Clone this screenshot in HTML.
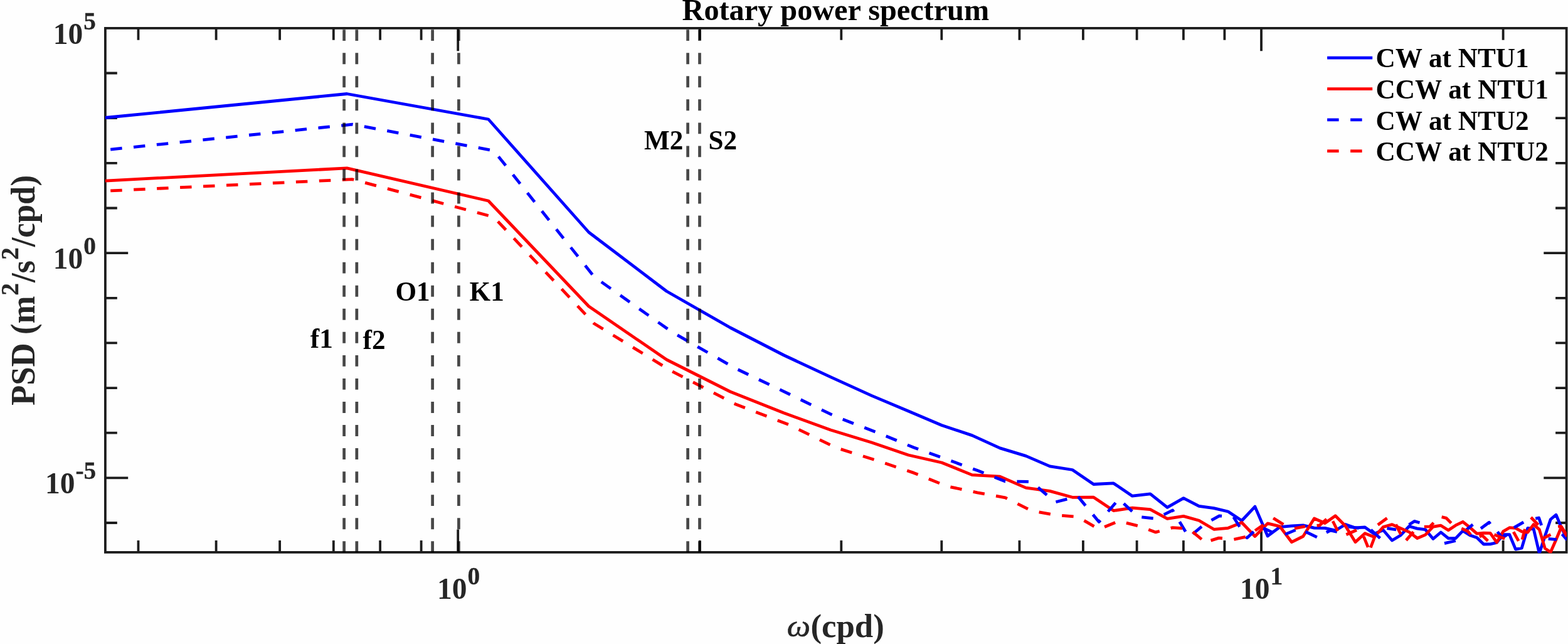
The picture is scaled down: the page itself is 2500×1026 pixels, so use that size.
<!DOCTYPE html>
<html lang="en"><head><meta charset="utf-8"><title>Rotary power spectrum</title>
<style>html,body{margin:0;padding:0;background:#fff;}body{width:2500px;height:1026px;overflow:hidden;}svg{display:block;}text{font-family:"Liberation Serif","DejaVu Serif",serif;font-weight:bold;}</style></head><body>
<svg width="2500" height="1026" viewBox="0 0 2500 1026">
<rect x="0" y="0" width="2500" height="1026" fill="#fefefe"/>
<defs><clipPath id="ax"><rect x="167.7" y="44.7" width="2330.1" height="836.6"/></clipPath></defs>
<g stroke="#1c1c1c" stroke-width="3.80" fill="none" stroke-linecap="butt">
<rect x="167.9" y="44.9" width="2329.7" height="835.0"/>
<path d="M220.5 879.9v-18.9 M220.5 44.9v18.9 M344.6 879.9v-18.9 M344.6 44.9v18.9 M446.1 879.9v-18.9 M446.1 44.9v18.9 M531.8 879.9v-18.9 M531.8 44.9v18.9 M606.1 879.9v-18.9 M606.1 44.9v18.9 M671.6 879.9v-18.9 M671.6 44.9v18.9 M1115.8 879.9v-18.9 M1115.8 44.9v18.9 M1341.3 879.9v-18.9 M1341.3 44.9v18.9 M1501.3 879.9v-18.9 M1501.3 44.9v18.9 M1625.4 879.9v-18.9 M1625.4 44.9v18.9 M1726.9 879.9v-18.9 M1726.9 44.9v18.9 M1812.6 879.9v-18.9 M1812.6 44.9v18.9 M1886.9 879.9v-18.9 M1886.9 44.9v18.9 M1952.4 879.9v-18.9 M1952.4 44.9v18.9 M2396.6 879.9v-18.9 M2396.6 44.9v18.9 M730.2 879.9v-36.3 M730.2 44.9v36.3 M2011.0 879.9v-36.3 M2011.0 44.9v36.3 M167.9 833.0h18.9 M2497.6 833.0h-17.5 M167.9 761.4h36.3 M2497.6 761.4h-36.3 M167.9 689.7h18.9 M2497.6 689.7h-17.5 M167.9 618.1h18.9 M2497.6 618.1h-17.5 M167.9 546.4h18.9 M2497.6 546.4h-17.5 M167.9 474.8h18.9 M2497.6 474.8h-17.5 M167.9 403.1h36.3 M2497.6 403.1h-36.3 M167.9 331.5h18.9 M2497.6 331.5h-17.5 M167.9 259.8h18.9 M2497.6 259.8h-17.5 M167.9 188.2h18.9 M2497.6 188.2h-17.5 M167.9 116.5h18.9 M2497.6 116.5h-17.5"/>
</g>
<g clip-path="url(#ax)">
<polyline points="167.6,187.5 553.2,149.5 778.7,190.0 938.7,370.0 1062.8,464.0 1164.3,522.0 1250.0,566.0 1324.3,600.6 1389.8,630.4 1448.4,655.0 1501.4,677.5 1549.8,693.6 1594.3,713.9 1635.6,726.4 1673.9,742.9 1709.8,748.5 1743.6,771.5 1775.4,769.9 1805.4,790.2 1834.0,786.8 1861.1,808.3 1887.0,793.6 1911.7,806.3 1935.4,809.7 1958.1,815.0 1979.9,829.5 2000.9,807.1 2021.1,854.0 2040.6,839.6 2059.5,837.8 2077.7,836.9 2095.4,841.1 2112.5,841.3 2129.1,845.2 2145.2,835.5 2160.9,840.9 2176.2,840.0 2191.0,850.5 2205.4,844.5 2219.5,861.0 2233.3,852.7 2246.7,838.5 2259.7,842.1 2272.5,843.6 2285.0,858.5 2297.3,848.0 2309.2,857.7 2320.9,857.7 2332.4,845.7 2343.6,852.7 2354.7,856.5 2365.5,867.0 2376.1,866.8 2386.4,864.5 2396.7,851.7 2406.7,851.7 2416.5,875.1 2426.2,873.2 2435.7,841.4 2445.1,842.5 2454.3,881.5 2463.3,853.9 2472.2,827.5 2481.0,820.2 2489.6,840.7 2498.1,858.3" fill="none" stroke="#0000ff" stroke-width="4.80" stroke-linejoin="round" stroke-linecap="butt"/>
<polyline points="167.6,288.1 553.2,267.9 778.7,320.0 938.7,488.0 1062.8,573.0 1164.3,624.0 1250.0,658.0 1324.3,685.0 1389.8,705.0 1448.4,725.0 1501.4,737.0 1549.8,756.6 1594.3,759.2 1635.6,777.1 1673.9,782.4 1709.8,792.3 1743.6,792.2 1775.4,813.6 1805.4,809.2 1834.0,811.7 1861.1,826.3 1887.0,822.4 1911.7,829.2 1935.4,843.3 1958.1,841.3 1979.9,832.5 2000.9,854.5 2021.1,833.9 2040.6,838.7 2059.5,863.7 2077.7,854.5 2095.4,826.0 2112.5,833.5 2129.1,821.8 2145.2,838.0 2160.9,863.6 2176.2,849.7 2191.0,855.5 2205.4,839.6 2219.5,835.6 2233.3,841.8 2246.7,847.6 2259.7,857.5 2272.5,852.1 2285.0,839.2 2297.3,837.2 2309.2,844.8 2320.9,836.9 2332.4,831.3 2343.6,840.4 2354.7,850.1 2365.5,849.2 2376.1,849.3 2386.4,864.1 2396.7,846.6 2406.7,840.7 2416.5,841.4 2426.2,846.9 2435.7,848.0 2445.1,835.6 2454.3,843.6 2463.3,873.6 2472.2,879.8 2481.0,859.7 2489.6,839.2 2498.1,853.1" fill="none" stroke="#ff0000" stroke-width="4.80" stroke-linejoin="round" stroke-linecap="butt"/>
<polyline points="176.2,238.1 561.8,198.2 787.3,240.0 947.3,441.0 1071.4,529.0 1172.9,587.0 1258.6,628.0 1332.9,664.0 1398.4,689.0 1457.0,713.0 1510.0,732.0 1558.4,749.6 1602.9,766.9 1644.2,767.5 1682.5,800.0 1718.4,790.7 1752.2,831.5 1784.0,795.0 1814.0,823.2 1842.6,826.2 1869.7,812.9 1895.6,856.0 1920.3,835.2 1944.0,821.8 1966.7,823.8 1978.8,843.0" fill="none" stroke="#0000ff" stroke-width="4.80" stroke-linejoin="round" stroke-linecap="butt" stroke-dasharray="18.5 18.5" stroke-dashoffset="0.0"/>
<polyline points="176.2,303.9 561.8,285.7 787.3,345.8 947.3,515.5 1071.4,591.6 1172.9,644.0 1258.6,677.0 1332.9,713.2 1398.4,733.8 1457.0,753.4 1510.0,774.7 1558.4,784.8 1602.9,792.8 1644.2,813.6 1682.5,820.5 1718.4,823.5 1752.2,843.2 1784.0,830.2 1814.0,837.6 1842.6,847.9 1869.7,840.6 1895.6,842.4 1920.3,862.9" fill="none" stroke="#ff0000" stroke-width="4.80" stroke-linejoin="round" stroke-linecap="butt" stroke-dasharray="18.5 18.5" stroke-dashoffset="0.0"/>
<polyline points="1986.2,855.6 1988.5,856.8 1998.9,847.0" fill="none" stroke="#0000ff" stroke-width="4.80" stroke-linejoin="round" stroke-linecap="butt"/>
<polyline points="2014.3,841.3 2028.8,848.1" fill="none" stroke="#0000ff" stroke-width="4.80" stroke-linejoin="round" stroke-linecap="butt"/>
<polyline points="2048.9,851.4 2065.6,844.4" fill="none" stroke="#0000ff" stroke-width="4.80" stroke-linejoin="round" stroke-linecap="butt"/>
<polyline points="2081.4,847.0 2099.8,855.8" fill="none" stroke="#0000ff" stroke-width="4.80" stroke-linejoin="round" stroke-linecap="butt"/>
<polyline points="2114.8,848.3 2121.1,845.0 2131.8,847.4" fill="none" stroke="#0000ff" stroke-width="4.80" stroke-linejoin="round" stroke-linecap="butt"/>
<polyline points="2149.6,839.2 2166.5,841.3" fill="none" stroke="#0000ff" stroke-width="4.80" stroke-linejoin="round" stroke-linecap="butt"/>
<polyline points="2185.7,843.9 2200.4,857.4" fill="none" stroke="#0000ff" stroke-width="4.80" stroke-linejoin="round" stroke-linecap="butt"/>
<polyline points="2211.5,841.6 2226.1,843.9" fill="none" stroke="#0000ff" stroke-width="4.80" stroke-linejoin="round" stroke-linecap="butt"/>
<polyline points="2246.5,836.0 2255.0,830.4 2263.5,832.8" fill="none" stroke="#0000ff" stroke-width="4.80" stroke-linejoin="round" stroke-linecap="butt"/>
<polyline points="2303.0,865.6 2320.8,861.5" fill="none" stroke="#0000ff" stroke-width="4.80" stroke-linejoin="round" stroke-linecap="butt"/>
<polyline points="2333.7,847.7 2348.3,835.7" fill="none" stroke="#0000ff" stroke-width="4.80" stroke-linejoin="round" stroke-linecap="butt"/>
<polyline points="2361.0,842.0 2374.2,832.2 2376.1,834.7" fill="none" stroke="#0000ff" stroke-width="4.80" stroke-linejoin="round" stroke-linecap="butt"/>
<polyline points="2387.5,847.3 2395.0,856.8 2402.2,852.4" fill="none" stroke="#0000ff" stroke-width="4.80" stroke-linejoin="round" stroke-linecap="butt"/>
<polyline points="2413.9,840.7 2429.2,831.9" fill="none" stroke="#0000ff" stroke-width="4.80" stroke-linejoin="round" stroke-linecap="butt"/>
<polyline points="2448.2,826.1 2453.6,825.0 2457.7,837.1" fill="none" stroke="#0000ff" stroke-width="4.80" stroke-linejoin="round" stroke-linecap="butt"/>
<polyline points="2468.7,858.3 2481.9,859.7" fill="none" stroke="#0000ff" stroke-width="4.80" stroke-linejoin="round" stroke-linecap="butt"/>
<polyline points="2490.6,850.9 2498.5,860.2" fill="none" stroke="#0000ff" stroke-width="4.80" stroke-linejoin="round" stroke-linecap="butt"/>
<polyline points="1930.5,861.1 1943.2,857.1 1948.9,857.5" fill="none" stroke="#ff0000" stroke-width="4.80" stroke-linejoin="round" stroke-linecap="butt"/>
<polyline points="1967.4,859.3 1985.8,855.4" fill="none" stroke="#ff0000" stroke-width="4.80" stroke-linejoin="round" stroke-linecap="butt"/>
<polyline points="2001.1,845.4 2014.3,836.1" fill="none" stroke="#ff0000" stroke-width="4.80" stroke-linejoin="round" stroke-linecap="butt"/>
<polyline points="2030.1,825.5 2046.3,835.6" fill="none" stroke="#ff0000" stroke-width="4.80" stroke-linejoin="round" stroke-linecap="butt"/>
<polyline points="2063.9,841.8 2081.0,838.7" fill="none" stroke="#ff0000" stroke-width="4.80" stroke-linejoin="round" stroke-linecap="butt"/>
<polyline points="2099.6,837.5 2104.0,836.9 2115.1,827.0" fill="none" stroke="#ff0000" stroke-width="4.80" stroke-linejoin="round" stroke-linecap="butt"/>
<polyline points="2125.0,830.2 2132.9,846.0" fill="none" stroke="#ff0000" stroke-width="4.80" stroke-linejoin="round" stroke-linecap="butt"/>
<polyline points="2146.4,851.8 2163.0,844.5" fill="none" stroke="#ff0000" stroke-width="4.80" stroke-linejoin="round" stroke-linecap="butt"/>
<polyline points="2174.2,854.7 2181.2,871.8" fill="none" stroke="#ff0000" stroke-width="4.80" stroke-linejoin="round" stroke-linecap="butt"/>
<polyline points="2185.3,872.5 2192.3,854.0" fill="none" stroke="#ff0000" stroke-width="4.80" stroke-linejoin="round" stroke-linecap="butt"/>
<polyline points="2196.8,836.3 2211.5,825.5" fill="none" stroke="#ff0000" stroke-width="4.80" stroke-linejoin="round" stroke-linecap="butt"/>
<polyline points="2225.5,835.7 2233.4,851.2" fill="none" stroke="#ff0000" stroke-width="4.80" stroke-linejoin="round" stroke-linecap="butt"/>
<polyline points="2241.9,860.9 2253.6,847.4" fill="none" stroke="#ff0000" stroke-width="4.80" stroke-linejoin="round" stroke-linecap="butt"/>
<polyline points="2270.8,839.2 2279.9,838.9 2285.7,832.9" fill="none" stroke="#ff0000" stroke-width="4.80" stroke-linejoin="round" stroke-linecap="butt"/>
<polyline points="2298.6,823.7 2305.8,825.3 2313.8,833.4" fill="none" stroke="#ff0000" stroke-width="4.80" stroke-linejoin="round" stroke-linecap="butt"/>
<polyline points="2330.2,841.9 2340.4,846.5 2344.8,851.8" fill="none" stroke="#ff0000" stroke-width="4.80" stroke-linejoin="round" stroke-linecap="butt"/>
<polyline points="2358.8,855.0 2363.2,853.0 2372.3,861.8" fill="none" stroke="#ff0000" stroke-width="4.80" stroke-linejoin="round" stroke-linecap="butt"/>
<polyline points="2382.4,851.7 2399.2,858.3" fill="none" stroke="#ff0000" stroke-width="4.80" stroke-linejoin="round" stroke-linecap="butt"/>
<polyline points="2413.1,847.3 2421.2,861.9" fill="none" stroke="#ff0000" stroke-width="4.80" stroke-linejoin="round" stroke-linecap="butt"/>
<polyline points="2427.0,859.7 2431.4,842.9" fill="none" stroke="#ff0000" stroke-width="4.80" stroke-linejoin="round" stroke-linecap="butt"/>
<polyline points="2440.9,824.3 2452.6,836.3" fill="none" stroke="#ff0000" stroke-width="4.80" stroke-linejoin="round" stroke-linecap="butt"/>
<polyline points="2460.7,857.5 2472.4,851.7" fill="none" stroke="#ff0000" stroke-width="4.80" stroke-linejoin="round" stroke-linecap="butt"/>
<polyline points="2484.1,839.2 2488.4,838.5 2498.5,854.6" fill="none" stroke="#ff0000" stroke-width="4.80" stroke-linejoin="round" stroke-linecap="butt"/>
</g>
<g stroke="#000" stroke-opacity="0.72" stroke-width="4.70" stroke-dasharray="17.9 19.15" stroke-dashoffset="34.75">
<line x1="548.6" y1="44.9" x2="548.6" y2="879.9"/>
<line x1="568.8" y1="44.9" x2="568.8" y2="879.9"/>
<line x1="689.6" y1="44.9" x2="689.6" y2="879.9"/>
<line x1="731.4" y1="44.9" x2="731.4" y2="879.9"/>
<line x1="1096.6" y1="44.9" x2="1096.6" y2="879.9"/>
<line x1="1115.5" y1="44.9" x2="1115.5" y2="879.9"/>
</g>
<text transform="translate(697.00 953.70) scale(0.9900 1.0250)" font-size="48.00" fill="#262626">10<tspan font-size="39.80" dx="0.90" dy="-22.40" stroke="#262626" stroke-width="0.30">0</tspan></text>
<text transform="translate(1977.00 953.70) scale(0.9900 1.0250)" font-size="48.00" fill="#262626">10<tspan font-size="39.80" dx="0.90" dy="-22.40" stroke="#262626" stroke-width="0.30">1</tspan></text>
<text transform="translate(84.80 69.50) scale(0.9900 1.0250)" font-size="48.00" fill="#262626">10<tspan font-size="39.80" dx="0.90" dy="-22.40" stroke="#262626" stroke-width="0.30">5</tspan></text>
<text transform="translate(84.80 427.60) scale(0.9900 1.0250)" font-size="48.00" fill="#262626">10<tspan font-size="39.80" dx="0.90" dy="-22.40" stroke="#262626" stroke-width="0.30">0</tspan></text>
<text transform="translate(72.00 785.50) scale(0.9900 1.0250)" font-size="48.00" fill="#262626">10<tspan font-size="39.80" dx="0.90" dy="-22.40" stroke="#262626" stroke-width="0.30">-5</tspan></text>
<text transform="translate(1332.30 32.00)" font-size="48.25" fill="#000" text-anchor="middle">Rotary power spectrum</text>
<text transform="translate(1254.80 1014.30) scale(1.0000 0.9200)" font-size="52.80" fill="#262626" style="font-weight:normal;font-style:italic" stroke="#262626" stroke-width="0.60">ω</text>
<text transform="translate(1292.40 1014.50)" font-size="52.80" fill="#262626">(cpd)</text>
<text transform="translate(55.20 462.50) rotate(-90) scale(1.0000 1.0200)" font-size="52.80" fill="#262626" text-anchor="middle">PSD (m<tspan font-size="39.60" dx="0.80" dy="-25.20" stroke="#262626" stroke-width="0.30">2</tspan><tspan dx="0.90" dy="25.20">/s</tspan><tspan font-size="39.60" dx="0.80" dy="-25.20" stroke="#262626" stroke-width="0.30">2</tspan><tspan dx="0.90" dy="25.20">/cpd)</tspan></text>
<text transform="translate(494.80 554.30) scale(1.0000 1.0250)" font-size="43.20" fill="#000">f1</text>
<text transform="translate(578.50 555.80) scale(1.0000 1.0250)" font-size="43.20" fill="#000">f2</text>
<text transform="translate(630.50 479.30) scale(1.0000 1.0250)" font-size="43.20" fill="#000">O1</text>
<text transform="translate(748.60 479.20) scale(1.0000 1.0250)" font-size="43.20" fill="#000">K1</text>
<text transform="translate(1027.00 238.00) scale(1.0000 1.0250)" font-size="43.20" fill="#000">M2</text>
<text transform="translate(1129.50 238.00) scale(1.0000 1.0250)" font-size="43.20" fill="#000">S2</text>
<line x1="2116.1" y1="92.2" x2="2188.2" y2="92.2" stroke="#0000ff" stroke-width="4.80"/>
<text transform="translate(2193.60 107.00) scale(1.0000 1.0150)" font-size="43.20" fill="#000">CW at NTU1</text>
<line x1="2116.1" y1="141.7" x2="2188.2" y2="141.7" stroke="#ff0000" stroke-width="4.80"/>
<text transform="translate(2193.60 157.00) scale(1.0000 1.0150)" font-size="43.20" fill="#000">CCW at NTU1</text>
<line x1="2116.1" y1="190.8" x2="2188.2" y2="190.8" stroke="#0000ff" stroke-width="4.80" stroke-dasharray="18.5 18.5"/>
<text transform="translate(2193.60 206.70) scale(1.0000 1.0150)" font-size="43.20" fill="#000">CW at NTU2</text>
<line x1="2116.1" y1="240.6" x2="2188.2" y2="240.6" stroke="#ff0000" stroke-width="4.80" stroke-dasharray="18.5 18.5"/>
<text transform="translate(2193.60 256.00) scale(1.0000 1.0150)" font-size="43.20" fill="#000">CCW at NTU2</text>
</svg></body></html>
